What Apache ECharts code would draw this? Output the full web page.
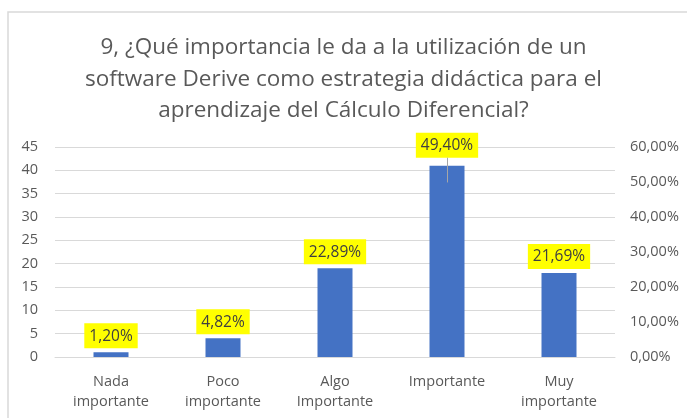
<!DOCTYPE html>
<html lang="es">
<head>
  <meta charset="UTF-8">
  <title>Derive</title>
  <style>
    html, body { margin: 0; padding: 0; background: #fff; }
  </style>
  <script src="https://cdn.jsdelivr.net/npm/echarts@6/dist/echarts.min.js"></script>
</head>
<body>
<div id="chart" style="width: 687px; height: 418px;"></div>
<script>
  // datos de la pregunta 9
  const categorias = ['Nada\nimportante', 'Poco\nimportante', 'Algo\nImportante', 'Importante', 'Muy\nimportante']
  const frecuencias = [1, 4, 19, 41, 18]
  const porcentajes = ['1,20%', '4,82%', '22,89%', '49,40%', '21,69%']
  const ticksIzq = { min: 0, max: 45, interval: 5 }
  const ticksDer = { min: 0, max: 0.6, interval: 0.1 }

  const gris = '#595959'
  const chart = echarts.init(document.getElementById('chart'))

  const option = {
    animation: false,
    textStyle: { fontFamily: 'Open Sans' },
    graphic: [{
      type: 'rect',
      shape: { x: 8, y: 12, width: 700, height: 430 },
      style: { fill: 'none', stroke: '#d9d9d9', lineWidth: 1.5 },
      silent: true
    }],
    title: {
      text: '9, ¿Qué importancia le da a la utilización de un\nsoftware Derive como estrategia didáctica para el\naprendizaje del Cálculo Diferencial?',
      left: 'center',
      top: 27,
      textStyle: { fontSize: 22.5, fontWeight: 'normal', color: gris, lineHeight: 31.5, fontFamily: 'Open Sans' }
    },
    grid: { left: 55, right: 72, top: 147, bottom: 61 },
    xAxis: {
      type: 'category',
      data: categorias,
      axisTick: { show: false },
      axisLine: { lineStyle: { color: '#d9d9d9' } },
      axisLabel: { color: gris, fontSize: 14.5, lineHeight: 20, margin: 15, interval: 0 }
    },
    yAxis: [
      {
        type: 'value',
        min: ticksIzq.min, max: ticksIzq.max, interval: ticksIzq.interval,
        axisLine: { show: false },
        axisTick: { show: false },
        splitLine: { lineStyle: { color: '#d9d9d9' } },
        axisLabel: { color: gris, fontSize: 14.5, margin: 17 }
      },
      {
        type: 'value',
        min: ticksDer.min, max: ticksDer.max, interval: ticksDer.interval,
        position: 'right',
        axisLine: { show: false },
        axisTick: { show: false },
        splitLine: { show: false },
        axisLabel: {
          color: gris, fontSize: 14.5, margin: 15,
          formatter: v => (v * 100).toFixed(2).replace('.', ',') + '%'
        }
      }
    ],
    series: [{
      type: 'bar',
      data: frecuencias,
      barWidth: 35,
      itemStyle: { color: '#4472C4' },
      label: {
        show: true,
        position: 'top',
        distance: 4,
        formatter: p => porcentajes[p.dataIndex],
        backgroundColor: '#ffff00',
        color: '#404040',
        fontSize: 15.5,
        padding: [5, 5, 4, 5]
      },
      labelLayout: p => p.dataIndex === 3 ? { dy: -4 } : {},
      // línea guía de Excel que baja desde la etiqueta de "Importante"
      markLine: {
        silent: true,
        symbol: 'none',
        label: { show: false },
        lineStyle: { color: '#a6a6a6', width: 1, type: 'solid' },
        data: [[
          { coord: [3, frecuencias[3] + 1.7] },
          { coord: [3, frecuencias[3] - 3.6] }
        ]]
      }
    }]
  }
  chart.setOption(option)
</script>
</body>
</html>
